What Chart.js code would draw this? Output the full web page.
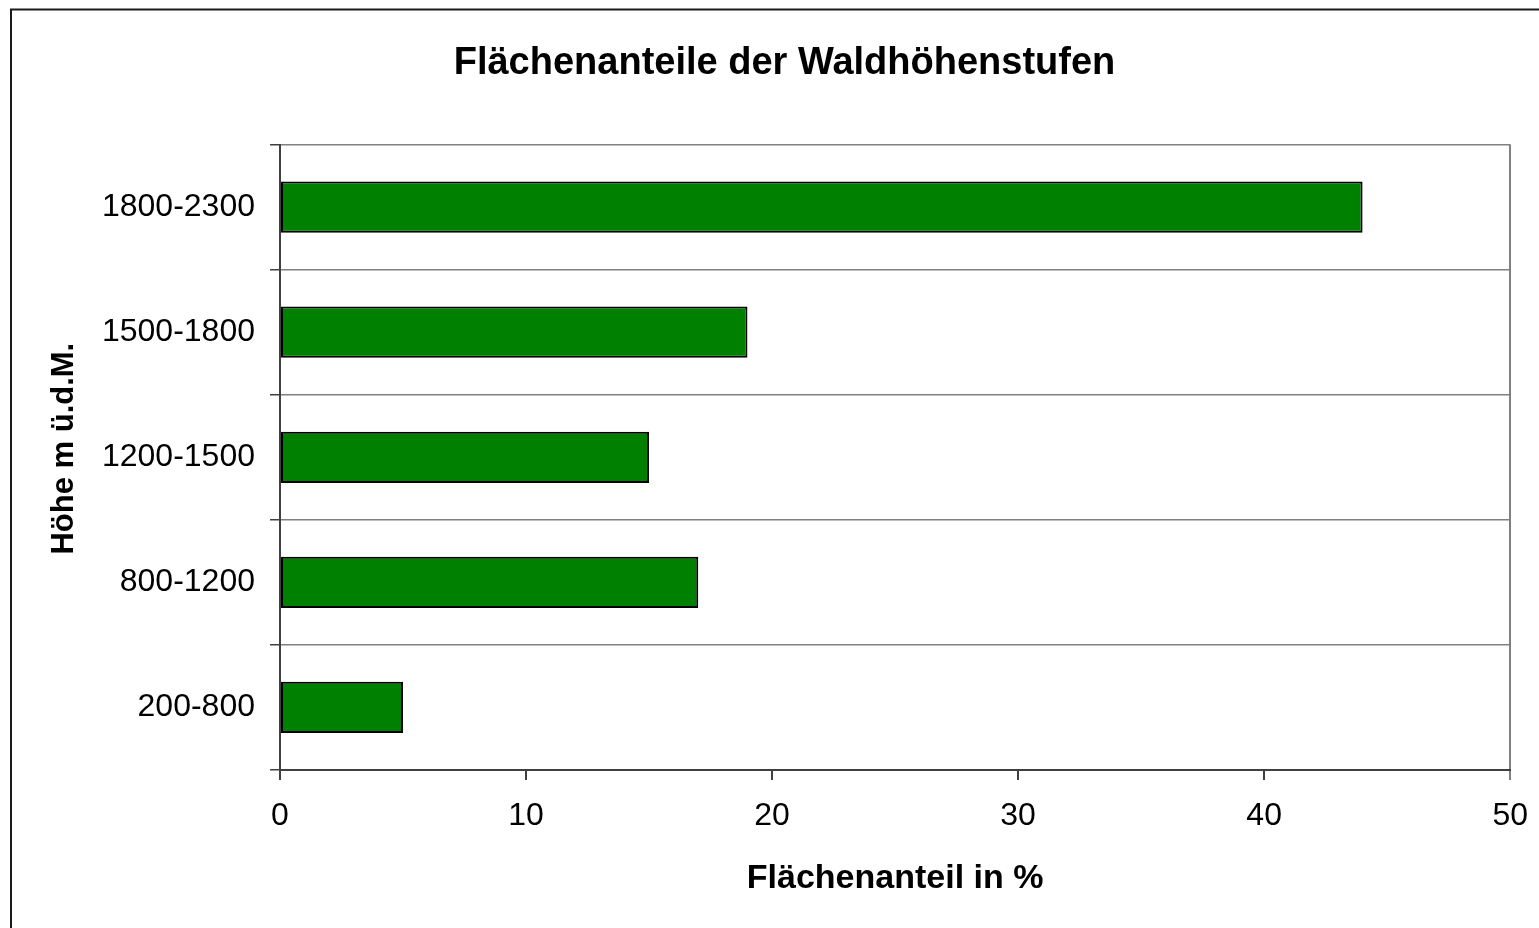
<!DOCTYPE html>
<html lang="de">
<head>
<meta charset="utf-8">
<title>Flächenanteile der Waldhöhenstufen</title>
<script src="https://cdn.jsdelivr.net/npm/chart.js@4"></script>
<style>
    html, body { margin: 0; padding: 0; background: #fff; overflow: hidden; }
    #wrap { position: relative; width: 1539px; height: 928px; }
</style>
</head>
<body>
<div id="wrap"><canvas id="waldChart"></canvas></div>
<script>
// Höhenstufen (top to bottom as shown) and their share in %
const categories = ['1800-2300', '1500-1800', '1200-1500', '800-1200', '200-800'];
const shares = [44, 19, 15, 17, 5];
const xMin = 0;
const xMax = 50;
const xStep = 10;

const chartTitle = 'Flächenanteile der Waldhöhenstufen';
const xTitle = 'Flächenanteil in %';
const yTitle = '  Höhe m ü.d.M.'; // leading spaces nudge it up like the original

document.addEventListener('DOMContentLoaded', function() {
    const ctx = document.getElementById('waldChart').getContext('2d');
    const fontFamily = "'Liberation Sans', Arial, Helvetica, sans-serif";

    // outer frame of the chart object (runs off the right/bottom edge)
    const framePlugin = {
        id: 'frame',
        beforeDraw(chart) {
            const c = chart.ctx;
            c.save();
            c.strokeStyle = '#1a1a1a';
            c.lineWidth = 2;
            c.beginPath();
            c.moveTo(11, chart.height + 5);
            c.lineTo(11, 9.5);
            c.lineTo(chart.width + 5, 9.5);
            c.stroke();
            c.restore();
        }
    };

    new Chart(ctx, {
        type: 'bar',
        data: {
            labels: categories,
            datasets: [{
                label: 'Flächenanteil',
                data: shares,
                backgroundColor: '#008000',
                borderColor: '#000',
                borderWidth: 2,
                borderSkipped: false,
                barPercentage: 0.41,
                categoryPercentage: 1
            }]
        },
        options: {
            indexAxis: 'y',
            responsive: true,
            maintainAspectRatio: false,
            animation: false,
            layout: { padding: { left: 30, right: 0, top: 0, bottom: 0 } },
            plugins: {
                legend: { display: false },
                tooltip: { enabled: false },
                title: {
                    display: true,
                    text: chartTitle,
                    color: '#000',
                    font: { family: fontFamily, size: 38, weight: 'bold' },
                    padding: { top: 41, bottom: 58 }
                }
            },
            scales: {
                x: {
                    min: xMin,
                    max: xMax,
                    afterFit: function(scale) { scale.height = 158; },
                    ticks: {
                        stepSize: xStep,
                        color: '#000',
                        padding: 11,
                        // tall line height keeps the labels low while the small
                        // padding leaves the plot's right edge where it belongs
                        font: { family: fontFamily, size: 32, lineHeight: 1.6 }
                    },
                    grid: {
                        color: function(c) { return c.tick && c.tick.value === xMax ? '#808080' : 'rgba(0,0,0,0)'; },
                        lineWidth: 2,
                        tickColor: function(c) { return c.tick && c.tick.value === xMax ? '#808080' : '#404040'; },
                        tickLength: 10
                    },
                    border: { color: '#404040', width: 2 },
                    title: {
                        display: true,
                        text: xTitle,
                        color: '#000',
                        font: { family: fontFamily, size: 34, weight: 'bold' },
                        padding: { top: 0, bottom: 29 }
                    }
                },
                y: {
                    afterFit: function(scale) { scale.width = 250; },
                    ticks: {
                        color: '#000',
                        padding: 15,
                        font: { family: fontFamily, size: 32 }
                    },
                    grid: {
                        color: '#808080',
                        lineWidth: 1.5,
                        tickColor: '#404040',
                        tickLength: 10
                    },
                    border: { color: '#404040', width: 2 },
                    title: {
                        display: true,
                        text: yTitle,
                        color: '#000',
                        font: { family: fontFamily, size: 31, weight: 'bold' },
                        padding: { top: 16, bottom: 0 }
                    }
                }
            }
        },
        plugins: [framePlugin]
    });
});
</script>
</body>
</html>
